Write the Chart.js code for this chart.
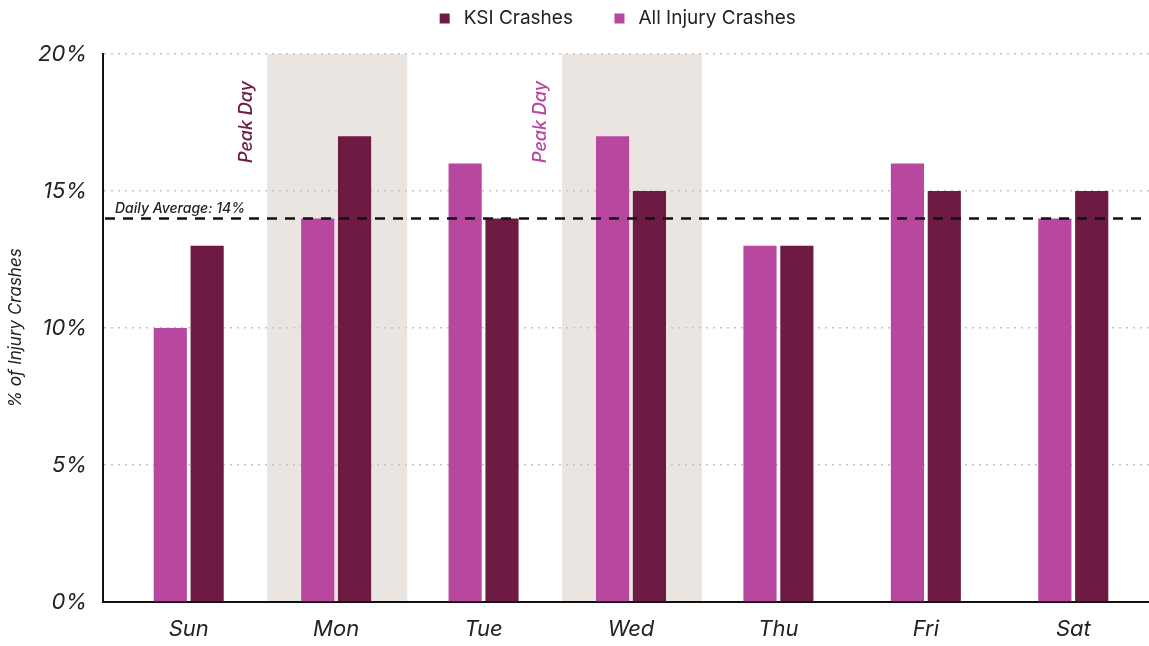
<!DOCTYPE html>
<html>
<head>
<meta charset="utf-8">
<script src="https://cdn.jsdelivr.net/npm/chart.js@4.4.1/dist/chart.umd.min.js"></script>
<style>
html,body{margin:0;padding:0;background:#fff;}
#wrap{width:1149px;height:646px;}
</style>
</head>
<body>
<div id="wrap"><canvas id="c" width="1149" height="646"></canvas></div>
<script>
const days = ['Sun','Mon','Tue','Wed','Thu','Fri','Sat'];
const allInjury = [10,14,16,17,13,16,14];
const ksi = [13,17,14,15,13,15,15];
const yTicks = [0,5,10,15,20];
const dailyAverage = 14;
const peakDays = ['Mon','Wed'];
const peakColors = ['#6d1b42','#b7479f'];

const PINK = '#b7479f';
const DARK = '#6d1b42';
const SHADE = '#ebe5e1';
const FONT = 'Inter, "Open Sans", sans-serif';

const layoutTweak = {
  id: 'layoutTweak',
  beforeLayout(chart){
    const lg = chart.legend;
    if (lg && !lg._patched){
      const f = lg.fit.bind(lg);
      lg.fit = function(){ f(); this.height += 16; };
      lg._patched = true;
    }
  },
  afterLayout(chart){
    const x = chart.scales.x;
    x._startPixel = x.left + 12;
    x._endPixel = x.right - 2;
    x._length = x._endPixel - x._startPixel;
    chart.legend.left += 76;
  }
};

const overlay = {
  id: 'overlay',
  beforeDraw(chart){
    const {ctx, scales:{x,y}} = chart;
    ctx.save();
    ctx.fillStyle = SHADE;
    peakDays.forEach(d=>{
      const cx = x.getPixelForValue(days.indexOf(d));
      const top = y.getPixelForValue(20), bot = y.getPixelForValue(0);
      ctx.fillRect(cx-69, top, 140, bot-top);
    });
    ctx.restore();
  },
  afterDatasetsDraw(chart){
    const {ctx, chartArea:a, scales:{x,y}} = chart;
    ctx.save();
    const yy = y.getPixelForValue(dailyAverage);
    ctx.strokeStyle = '#111';
    ctx.lineWidth = 2.5;
    ctx.setLineDash([10,8]);
    ctx.beginPath();
    ctx.moveTo(a.left+2, yy);
    ctx.lineTo(chart.width, yy);
    ctx.stroke();
    ctx.setLineDash([]);
    ctx.fillStyle = '#222';
    ctx.font = 'italic 500 14px ' + FONT;
    ctx.textAlign = 'left';
    ctx.textBaseline = 'bottom';
    ctx.fillText('Daily Average: ' + dailyAverage + '%', a.left+12, yy-3);
    peakDays.forEach((d,i)=>{
      const cx = x.getPixelForValue(days.indexOf(d)) - 69 - 21;
      ctx.save();
      ctx.translate(cx, y.getPixelForValue(20) + 68);
      ctx.rotate(-Math.PI/2);
      ctx.fillStyle = peakColors[i];
      ctx.font = 'italic 500 18px ' + FONT;
      ctx.textAlign = 'center';
      ctx.textBaseline = 'middle';
      ctx.fillText('Peak Day', 0, 0);
      ctx.restore();
    });
    ctx.restore();
  }
};

new Chart(document.getElementById('c'), {
  type: 'bar',
  data: {
    labels: days,
    datasets: [
      {label:'All Injury Crashes', data: allInjury, backgroundColor: PINK},
      {label:'KSI Crashes', data: ksi, backgroundColor: DARK}
    ]
  },
  options: {
    responsive: false,
    animation: false,
    layout: {padding:{top:-28,right:0,left:6,bottom:0}},
    datasets: {bar:{categoryPercentage:0.5, barPercentage:0.9}},
    plugins: {
      legend: {
        reverse: true,
        labels: {
          usePointStyle: true, pointStyle: 'rect',
          boxWidth: 19, boxHeight: 10,
          color:'#222', font:{family:FONT, size:19}, padding: 37
        }
      },
      tooltip:{enabled:false}
    },
    scales: {
      x: {
        grid: {display:false, drawTicks:false},
        border: {display:true, color:'#111', width:2},
        ticks: {color:'#222', font:{family:FONT, size:22, style:'italic'}, padding: 14},
        afterFit(s){ s.height = 44; }
      },
      y: {
        min: 0, max: 20,
        afterBuildTicks(s){ s.ticks = yTicks.map(v=>({value:v})); },
        grid: {color:'#c4c4c4', lineWidth:1.5, drawTicks:false},
        border: {display:true, color:'#111', width:2, dash:[2,5]},
        ticks: {color:'#222', font:{family:FONT, size:22, style:'italic'}, padding: 16,
          callback: v => v + '%'},
        title: {display:true, text:'% of Injury Crashes', color:'#222',
          font:{family:FONT, size:17, style:'italic'}, padding:{top:0,bottom:6}},
        afterFit(s){ s.width = 97; }
      }
    }
  },
  plugins:[layoutTweak, overlay]
});
</script>
</body>
</html>
